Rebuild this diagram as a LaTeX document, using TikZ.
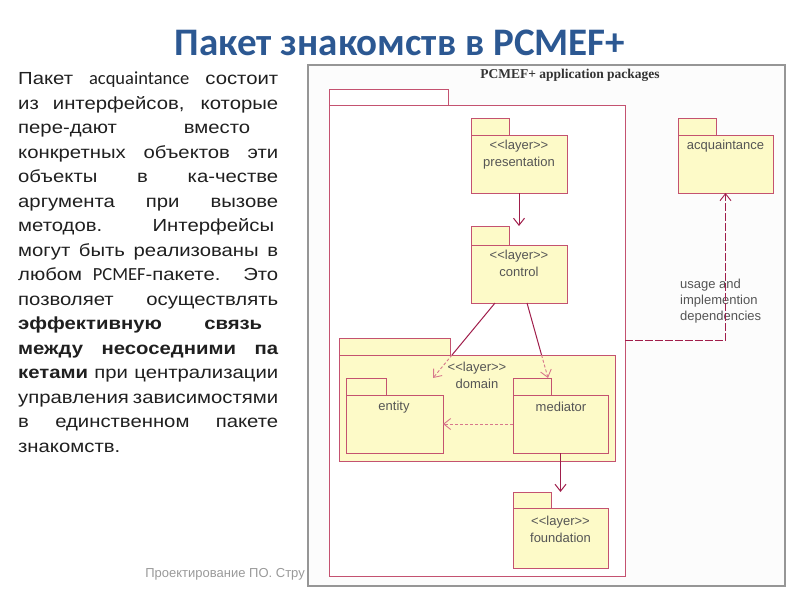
\documentclass[tikz,border=0pt]{standalone}
\usepackage{fontspec}
\setmainfont{Liberation Sans}[FakeStretch=1.16]
\newfontfamily\calib{Carlito}
\newfontfamily\umlfont{Liberation Sans}
\newfontfamily\footfont{Liberation Sans}
\newfontfamily\serifb{Liberation Serif}
\usetikzlibrary{arrows.meta,calc}
\definecolor{titleblue}{RGB}{44,88,146}
\definecolor{pkgline}{RGB}{196,82,112}
\definecolor{arrowcol}{RGB}{160,30,75}
\definecolor{lightdep}{RGB}{215,120,140}
\definecolor{pkgfill}{RGB}{253,250,200}
\definecolor{lbl}{RGB}{85,85,85}
\definecolor{framegray}{RGB}{150,150,150}
\tikzset{
  pkgbox/.style={draw=pkgline, line width=0.9pt, fill=pkgfill, inner sep=0pt, outer sep=0pt},
  bigbox/.style={draw=pkgline, line width=0.9pt, fill=white, inner sep=0pt, outer sep=0pt},
  umltext/.style={font=\umlfont\fontsize{13}{17}\selectfont, text=lbl, align=center, inner sep=0pt},
  deparrow/.style={draw=arrowcol, line width=1pt, -{Straight Barb[length=7pt,width=11pt]}},
  depline/.style={draw=arrowcol, line width=1pt},
  lightarrow/.style={draw=lightdep, line width=0.9pt, densely dashed, -{Straight Barb[length=7pt,width=11pt]}},
  usagearrow/.style={draw=arrowcol, line width=0.9pt, dash pattern=on 8pt off 2pt, -{Straight Barb[length=7pt,width=11pt]}},
}
% #1 style, #2 name, #3 x1, #4 tab top, #5 tab right, #6 body top, #7 x2, #8 y2
\newcommand\umlpkg[8]{%
  \node[#1, anchor=north west, minimum width={#5-#3}, minimum height={#6-#4}] (#2-tab) at (#3,#4) {};
  \node[#1, anchor=north west, minimum width={#7-#3}, minimum height={#8-#6}] (#2) at (#3,#6) {};
}
\begin{document}
\begin{tikzpicture}[x=1pt,y=-1pt]
\useasboundingbox (0,0) rectangle (800,600);
% title
\node[font=\calib\bfseries\fontsize{39}{42}\selectfont, text=titleblue, anchor=base, inner sep=0pt] (title) at (400,55) {Пакет знакомств в PCMEF+};
% left text
\node[anchor=north west, inner sep=0pt, align=left, font=\fontsize{17.5}{24.5}\selectfont, text=black!88] (body) at (18,72) {%
\makebox[260pt][s]{Пакет {\calib\fontsize{18.5}{24.5}\selectfont acquaintance} состоит}\\
\makebox[260pt][s]{из интерфейсов, которые}\\
\makebox[260pt][s]{пере-дают\hfill вместо\hspace*{28pt}}\\
\makebox[260pt][s]{конкретных объектов эти}\\
\makebox[260pt][s]{объекты в ка-честве}\\
\makebox[260pt][s]{аргумента при вызове}\\
\makebox[260pt][s]{методов. Интерфейсы\hspace*{4pt}}\\
\makebox[260pt][s]{могут быть реализованы в}\\
\makebox[260pt][s]{любом {\calib\fontsize{18.5}{24.5}\selectfont PCMEF}-пакете. Это}\\
\makebox[260pt][s]{позволяет осуществлять}\\
\makebox[260pt][s]{\bfseries эффективную\hfill связь\hspace*{16pt}}\\
\makebox[260pt][s]{\bfseries между несоседними па}\\
\makebox[260pt][s]{\textbf{кетами} при централизации}\\
\makebox[260pt][s]{управления зависимостями}\\
\makebox[260pt][s]{в единственном пакете}\\
знакомств.};
% footer
\node[anchor=base east, inner sep=0pt, font=\footfont\fontsize{13}{15}\selectfont, text=black!40] (footer) at (305,577) {Проектирование ПО. Стру};
% diagram frame
\node[draw=framegray, line width=1.5pt, fill=black!1, inner sep=0pt, anchor=north west, minimum width=477pt, minimum height=521pt] (frame) at (307,64) {};
\node[font=\serifb\bfseries\fontsize{13.5}{15}\selectfont, text=black!80, inner sep=0pt] (ftitle) at (570,75) {PCMEF+ application packages};
% packages
\umlpkg{bigbox}{big}{329}{89}{448}{105}{625}{576}
\umlpkg{pkgbox}{pres}{471}{118}{509}{135}{567}{193}
\umlpkg{pkgbox}{acq}{678}{118}{716}{135}{773}{193}
\umlpkg{pkgbox}{ctrl}{471}{226}{509}{245}{567}{303}
\umlpkg{pkgbox}{dom}{339}{338}{450}{355}{615}{461}
\umlpkg{pkgbox}{ent}{346}{378}{386}{395}{443}{453}
\umlpkg{pkgbox}{med}{513}{378}{551}{395}{608}{453}
\umlpkg{pkgbox}{fnd}{513}{492}{551}{508}{608}{568}
% labels
\node[umltext] (presL) at (519,155) {<<layer>>\\presentation};
\node[umltext] (acqL) at (725.5,146) {acquaintance};
\node[umltext] (ctrlL) at (519,263.5) {<<layer>>\\control};
\node[umltext] (domL) at (477,375.5) {<<layer>>\\domain};
\node[umltext] (entL) at (394,407) {entity};
\node[umltext] (medL) at (561,407) {mediator};
\node[umltext] (fndL) at (560.5,529) {<<layer>>\\foundation};
\node[umltext, align=left, anchor=west, font=\umlfont\fontsize{13}{16}\selectfont] (usage) at (680,301) {usage and\\implemention\\dependencies};
% connectors
\draw[deparrow] (pres.south) -- (pres.south |- ctrl-tab.north);
\coordinate (entTop) at ($(ent.north east |- ent-tab.north)+(-10,0)$);
\coordinate (medTop) at ($(med.north west |- med-tab.north)+(35,0)$);
\coordinate (c1) at ($(ctrl.south)+(-24,0)$);
\coordinate (c2) at ($(ctrl.south)+(8,0)$);
\path (c1) -- coordinate[pos=0.693] (c1m) (entTop);
\path (c2) -- coordinate[pos=0.693] (c2m) (medTop);
\draw[depline] (c1) -- (c1m);
\draw[lightarrow] (c1m) -- (entTop);
\draw[depline] (c2) -- (c2m);
\draw[lightarrow] (c2m) -- (medTop);
\draw[lightarrow] (med.west) -- (ent.east);
\draw[deparrow] (med.south) -- (med.south |- fnd-tab.north);
\draw[usagearrow] (big.east) -| (acq.south);
\end{tikzpicture}
\end{document}
